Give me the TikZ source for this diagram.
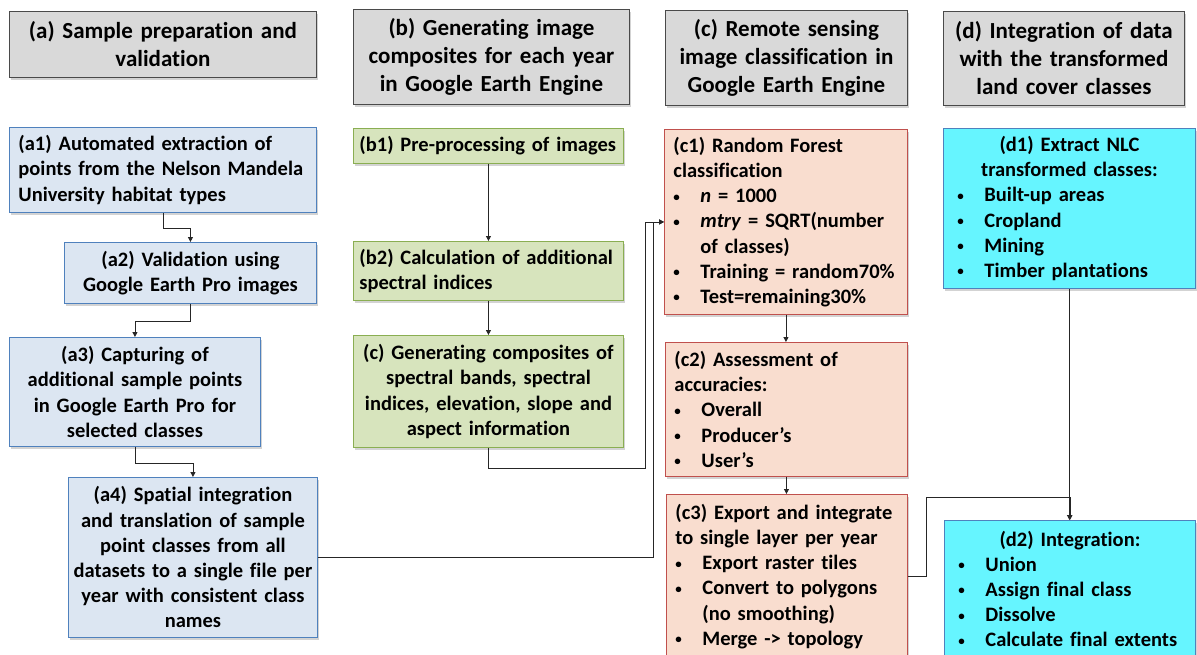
\documentclass[tikz,border=0pt]{standalone}
\usepackage{fontspec}
\setmainfont{Carlito}[Ligatures={TeX,NoCommon}]
\usetikzlibrary{positioning,arrows.meta,shadows}

\definecolor{hdrgray}{HTML}{D9D9D9}
\definecolor{hdrline}{HTML}{4A4A4A}
\definecolor{afill}{HTML}{DCE6F2}
\definecolor{aline}{HTML}{4F81BD}
\definecolor{bfill}{HTML}{D7E4BD}
\definecolor{bline}{HTML}{8AAE52}
\definecolor{cfill}{HTML}{F9DDCF}
\definecolor{cline}{HTML}{C0504D}
\definecolor{dfill}{HTML}{66F5FF}
\definecolor{dline}{HTML}{4F81BD}

\newcommand{\itm}{\makebox[27pt][l]{\raisebox{1.5pt}{\fontsize{13}{13}\selectfont\textbullet}}}
\newcommand{\cont}{\hspace*{27pt}}

\begin{document}
\begin{tikzpicture}[x=1pt, y=-1pt,
    box/.style={rectangle, draw, line width=0.9pt, inner xsep=9pt, inner ysep=0pt,
        anchor=north west, font=\fontsize{20.5}{25.2}\selectfont\bfseries,
        drop shadow={shadow xshift=2pt, shadow yshift=-2.5pt, opacity=0.35}},
    leftbox/.style={box, align=left},
    midbox/.style={box, align=center, inner xsep=5pt},
    header/.style={midbox, draw=hdrline, fill=hdrgray, font=\fontsize{23}{28}\selectfont\bfseries},
    abox/.style={draw=aline, fill=afill},
    bbox/.style={draw=bline, fill=bfill},
    cbox/.style={draw=cline, fill=cfill},
    dbox/.style={draw=dline, fill=dfill, inner xsep=14pt},
    link/.style={-{Triangle[length=5pt,width=5pt]}, line width=0.8pt, draw=black!85}]

    \clip (0,0) rectangle (1197,654);

    % Headers
    \node[header, text width=297pt, minimum height=66pt] (ha) at (9,11) {(a) Sample preparation and\\ validation};
    \node[header, text width=266pt, minimum height=95pt] (hb) at (353,9) {(b) Generating image\\ composites for each year\\ in Google Earth Engine};
    \node[header, text width=232pt, minimum height=95pt] (hc) at (665,10) {(c) Remote sensing\\ image classification in\\ Google Earth Engine};
    \node[header, text width=231pt, minimum height=94pt] (hd) at (943,11) {(d) Integration of data\\ with the transformed\\ land cover classes};

    % Sample preparation
    \node[leftbox, abox, text width=289pt, minimum height=85pt] (a1) at (9,127)
        {(a1) Automated extraction of\\ points from the Nelson Mandela\\ University habitat types};
    \node[midbox, abox, text width=242pt, minimum height=61pt] (a2) at (64,242)
        {(a2) Validation using\\ Google Earth Pro images};
    \node[midbox, abox, text width=241pt, minimum height=109pt] (a3) at (9,337)
        {(a3) Capturing of\\ additional sample points\\ in Google Earth Pro for\\ selected classes};
    \node[midbox, abox, text width=239pt, minimum height=160pt] (a4) at (68,477)
        {(a4) Spatial integration\\ and translation of sample\\ point classes from all\\ datasets to a single file per\\ year with consistent class\\ names};

    % Image composites
    \node[leftbox, bbox, inner xsep=6pt, text width=258pt, minimum height=35pt] (b1) at (353,128)
        {(b1) Pre-processing of images};
    \node[leftbox, bbox, inner xsep=6pt, text width=258pt, minimum height=59pt] (b2) at (353,241)
        {(b2) Calculation of additional\\ spectral indices};
    \node[midbox, bbox, text width=260pt, minimum height=112pt] (b3) at (353,335)
        {(c) Generating composites of\\ spectral bands, spectral\\ indices, elevation, slope and\\ aspect information};

    % Classification
    \node[leftbox, cbox, text width=225pt, minimum height=185pt] (c1) at (664,129)
        {(c1) Random Forest\\ classification\\ \itm\textit{n} = 1000\\ \itm\textit{mtry} = SQRT(number\\ \cont of classes)\\ \itm Training = random70\%\\ \itm Test=remaining30\%};
    \node[leftbox, cbox, text width=224pt, minimum height=134pt] (c2) at (665,342)
        {(c2) Assessment of\\ accuracies:\\ \itm Overall\\ \itm Producer’s\\ \itm User’s};
    \node[leftbox, cbox, text width=223pt, minimum height=164pt] (c3) at (666,494)
        {(c3) Export and integrate\\ to single layer per year\\ \itm Export raster tiles\\ \itm Convert to polygons\\ \cont (no smoothing)\\ \itm Merge -> topology};

    % Integration
    \node[leftbox, dbox, text width=224pt, minimum height=160pt] (d1) at (943,128)
        {\makebox[\linewidth]{(d1) Extract NLC}\\ \makebox[\linewidth]{transformed classes:}\\ \itm Built-up areas\\ \itm Cropland\\ \itm Mining\\ \itm Timber plantations};
    \node[leftbox, dbox, text width=223pt, minimum height=137pt] (d2) at (944,520)
        {\makebox[\linewidth]{(d2) Integration:}\\ \itm Union\\ \itm Assign final class\\ \itm Dissolve\\ \itm Calculate final extents};

    % Connections
    \draw[link] (a1.south) -- ++(0,15) -| (a2.north);
    \draw[link] (a2.south) -- ++(0,17) -| (a3.north);
    \draw[link] (a3.south) -- ++(0,16) -| (a4.north);
    \draw[link] (a4.east) -| ([xshift=-11pt]c1.west) -- (c1.west);
    \draw[link] (b1) -- (b2);
    \draw[link] (b2) -- (b3);
    \draw[link] (b3.south) -- ++(0,20) -| ([xshift=-19pt]c1.west) -- (c1.west);
    \draw[link] (c1.south) -- (c1.south |- c2.north);
    \draw[link] (c2.south) -- (c2.south |- c3.north);
    \draw[link] (d1.south) -- (d1.south |- d2.north);
    \draw[link] (c3.east) -- ++(18,0) |- ([yshift=23pt]d2.north) -- (d2.north);
\end{tikzpicture}
\end{document}
